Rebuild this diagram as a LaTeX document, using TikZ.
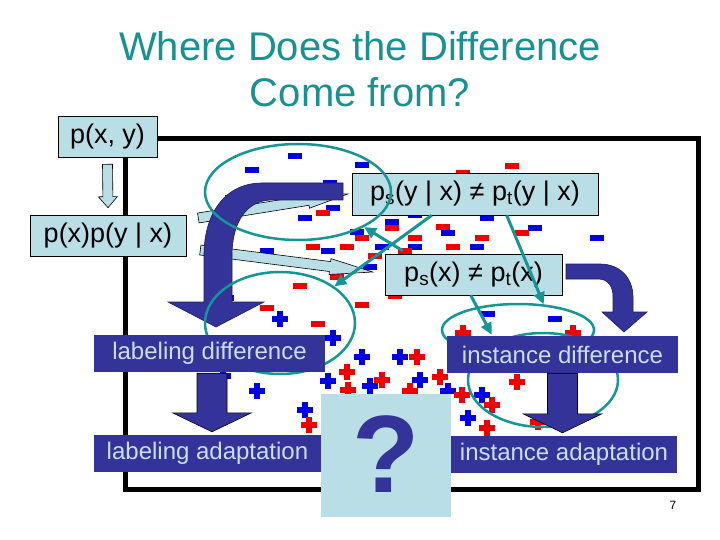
\documentclass[tikz,border=0pt]{standalone}
\usepackage{fontspec}
\setmainfont{Liberation Sans}
\usepackage{tikz}
\usetikzlibrary{calc,arrows.meta,shapes.geometric}
\definecolor{titleteal}{RGB}{25,145,145}
\definecolor{boxfill}{RGB}{185,222,229}
\definecolor{deepblue}{RGB}{51,51,153}
\definecolor{palelabel}{RGB}{205,222,250}
\definecolor{ringteal}{RGB}{20,150,150}
\definecolor{minusred}{RGB}{240,0,0}
\definecolor{minusblue}{RGB}{0,0,225}
% block arrow from tail #2 to tip #3: half shaft #4, half head #5, head length #6
\newcommand{\slimarrow}[6]{%
  \coordinate (neck) at ($(#3)!#6!(#2)$);
  \filldraw[#1] ($(#2)!#4!90:(#3)$) -- ($(neck)!#4!-90:(#2)$) -- ($(neck)!#5!-90:(#2)$)
    -- (#3) -- ($(neck)!#5!90:(#2)$) -- ($(neck)!#4!90:(#2)$) -- ($(#2)!#4!-90:(#3)$) -- cycle;}

\begin{document}
\begin{tikzpicture}[x=1pt,y=-1pt,
  titletext/.style={text=titleteal,inner sep=0pt,font=\fontsize{40}{46}\selectfont},
  probbox/.style={draw=black,line width=0.6pt,fill=boxfill,inner sep=0pt,
    font=\fontsize{27}{30}\selectfont},
  tagbox/.style={fill=deepblue,text=palelabel,inner sep=0pt,
    font=\fontsize{24}{28}\selectfont},
  ring/.style={ellipse,draw=ringteal,line width=2.5pt,inner sep=0pt},
  pointer/.style={ringteal,line width=3pt,-{Triangle[length=12pt,width=11pt]}},
  bigbend/.style={fill=deepblue,draw=deepblue!60!black,line width=0.6pt},
  palearrow/.style={fill=boxfill,draw=black,line width=0.6pt},
  darkarrow/.style={fill=deepblue,draw=black,line width=0.6pt}]
  \useasboundingbox (0,0) rectangle (720,540);

  \node[titletext,anchor=base] (title1) at (360,61) {Where Does the Difference};
  \node[titletext,anchor=base] (title2) at (360,107) {Come from?};

  \draw[line width=5pt] (125,139) rectangle (698,489);

  % scattered labels
  \foreach \x/\y in {295/156,252/170,362/165,330/183,232/198,333/208,305/218,357/232,
      328/251,267/251,382/247,370/267,227/298,392/222,415/215,487/218,448/233,535/228,
      597/238,477/247,415/247,488/314,555/319}
    \fill[minusblue] (\x-7,\y-3) rectangle (\x+7,\y+3);
  \foreach \x/\y in {323/213,362/238,313/247,347/247,375/256,337/277,300/286,362/305,
      267/308,512/166,463/173,392/228,443/227,415/238,482/238,522/233,453/247,405/251,
      395/296,318/324}
    \fill[minusred] (\x-7,\y-3) rectangle (\x+7,\y+3);
  \foreach \x/\y in {280/319,333/338,362/357,328/381,370/386,257/391,305/410,223/376,
      400/357,420/380,448/391,482/395,468/418}{
    \fill[minusblue] (\x-8,\y-3) rectangle (\x+8,\y+3);
    \fill[minusblue] (\x-3,\y-8) rectangle (\x+3,\y+8);
  }
  \foreach \x/\y in {347/372,382/380,348/390,309/425,417/357,463/333,573/333,440/377,
      410/391,462/395,492/405,487/428,517/382,538/422}{
    \fill[minusred] (\x-8,\y-3) rectangle (\x+8,\y+3);
    \fill[minusred] (\x-3,\y-8) rectangle (\x+3,\y+8);
  }

  \node[probbox,minimum width=99pt,minimum height=41pt] (pxy) at (107.5,136.5) {p(x, y)};
  \node[probbox,minimum width=156pt,minimum height=41pt] (pxpyx) at (108,235.5) {p(x)p(y | x)};
  \node[probbox,minimum width=246pt,minimum height=42pt] (pcond) at (475,194)
    {p\textsubscript{s}(y | x) ≠ p\textsubscript{t}(y | x)};
  \node[probbox,minimum width=177pt,minimum height=41pt] (pmarg) at (473.5,274.5)
    {p\textsubscript{s}(x) ≠ p\textsubscript{t}(x)};

  \coordinate (f1) at ($(pxy.south)+(0,7)$);
  \coordinate (f2) at ($(pxpyx.north)+(0,-7)$);
  \slimarrow{palearrow}{f1}{f2}{5pt}{9.5pt}{11pt}
  \coordinate (g1) at ($(pxpyx.east)+(12,-17.5)$);
  \coordinate (g2) at ($(pcond.west)+(-4,0)$);
  \slimarrow{palearrow}{g1}{g2}{5pt}{8pt}{40pt}
  \coordinate (h1) at ($(pxpyx.east)+(14,14.5)$);
  \coordinate (h2) at ($(pmarg.west)+(-12,-2.5)$);
  \slimarrow{palearrow}{h1}{h2}{5pt}{8pt}{43pt}

  \filldraw[bigbend] (343,183) -- (262,183) .. controls (224,183) and (204,215) .. (204,255)
    -- (204,302) -- (168,302) -- (216,327) -- (264,302) -- (232,302) -- (232,255)
    .. controls (232,225) and (245,200) .. (272,200) -- (343,200) -- cycle;
  \filldraw[bigbend] (566,264) -- (600,264) .. controls (620,264) and (633,278) .. (633,297)
    -- (633,312) -- (647,312) -- (624,332) -- (602,312) -- (613,312) -- (613,297)
    .. controls (613,286) and (608,279) .. (598,279) -- (566,279) -- cycle;

  \node[ring,minimum width=186pt,minimum height=96pt] (ringA) at (298,192) {};
  \node[ring,minimum width=150pt,minimum height=102pt] (ringB) at (280,323) {};
  \node[ring,minimum width=152pt,minimum height=52pt] (ringC) at (518,330) {};
  \node[ring,minimum width=150pt,minimum height=94pt] (ringD) at (543,380) {};

  \node[tagbox,minimum width=231pt,minimum height=37pt] (labdiff) at (209.5,353.5)
    {labeling difference};
  \node[tagbox,minimum width=227pt,minimum height=37pt] (labadapt) at (207.5,453.5)
    {labeling adaptation};
  \node[tagbox,minimum width=231pt,minimum height=37pt] (instdiff) at (562.5,354.5)
    {instance difference};
  \node[tagbox,minimum width=226pt,minimum height=37pt] (instadapt) at (564,454.5)
    {instance adaptation};

  \draw[pointer] ($(pcond.south west)+(80,0)$) -- (ringB.34);
  \draw[pointer] ($(pmarg.north west)+(18,-3)$) -- (ringA.-28);
  \draw[pointer] ($(pcond.south west)+(155,0)$) -- (ringC.45);
  \draw[pointer] ($(pmarg.south west)+(86,0)$) -- ($(instdiff.north west)+(45,-1)$);

  \coordinate (k1) at ($(labdiff.south)+(2.5,1)$);
  \coordinate (k2) at ($(labadapt.north)+(4.5,-3)$);
  \slimarrow{darkarrow}{k1}{k2}{15pt}{39.5pt}{19pt}
  \coordinate (m1) at (instdiff.south);
  \coordinate (m2) at ($(instadapt.north)+(-1.5,-3)$);
  \slimarrow{darkarrow}{m1}{m2}{15pt}{39.5pt}{19pt}

  \node[fill=boxfill,minimum width=130pt,minimum height=123pt,inner sep=0pt] (qbox)
    at (386,455.5) {};
  \node[text=deepblue,anchor=base,inner sep=0pt,font=\fontsize{110}{110}\selectfont\bfseries]
    (qmark) at (386,492) {?};
  \node[inner sep=0pt,font=\fontsize{12}{14}\selectfont] (page) at (673,505) {7};
\end{tikzpicture}
\end{document}
